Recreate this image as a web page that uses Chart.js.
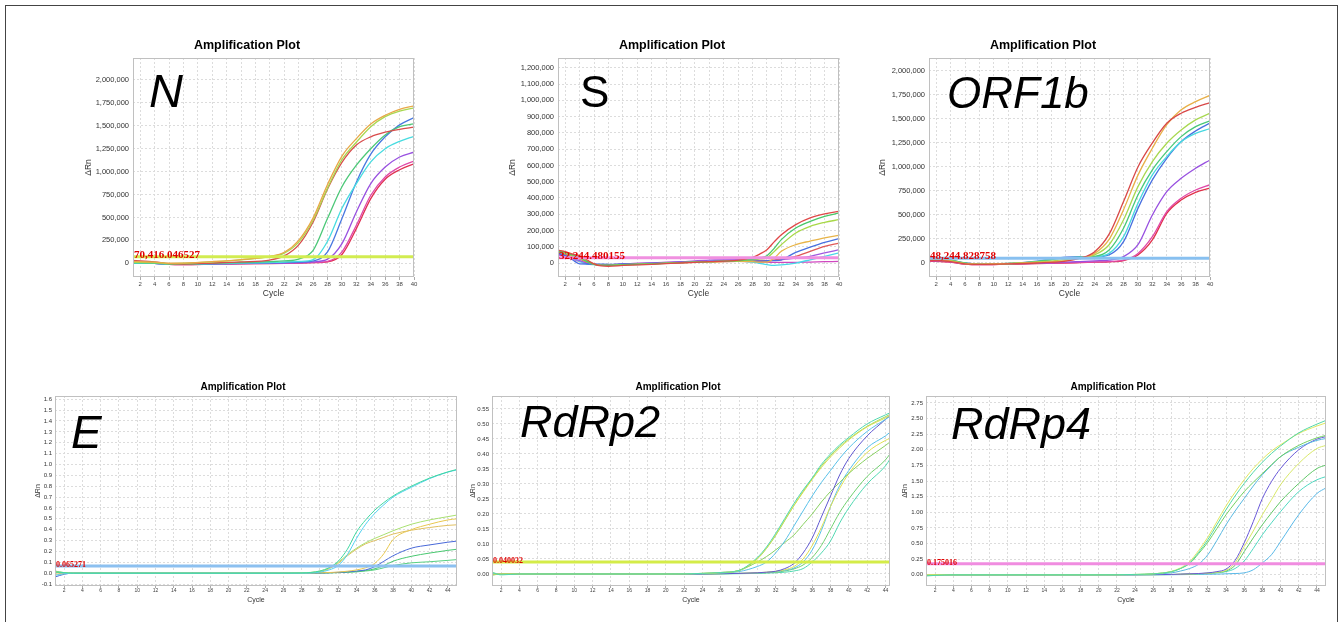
<!DOCTYPE html>
<html>
<head>
<meta charset="utf-8">
<script src="https://cdn.jsdelivr.net/npm/chart.js@4.4.0/dist/chart.umd.min.js"></script>
<style>
body { margin: 0; background: #fff; width: 1343px; height: 622px; overflow: hidden; position: relative; }
#frame { position: absolute; left: 5px; top: 5px; width: 1331px; height: 640px; border: 1px solid #444; }
</style>
</head>
<body>
<div id="frame"></div>
<script>
// ---- tick labels ----
var topXTicks = [2,4,6,8,10,12,14,16,18,20,22,24,26,28,30,32,34,36,38,40];
var botXTicks = [2,4,6,8,10,12,14,16,18,20,22,24,26,28,30,32,34,36,38,40,42,44];
var nYTicks = [0,250000,500000,750000,1000000,1250000,1500000,1750000,2000000];
var sYTicks = [0,100000,200000,300000,400000,500000,600000,700000,800000,900000,1000000,1100000,1200000];
var oYTicks = [0,250000,500000,750000,1000000,1250000,1500000,1750000,2000000];
var eYTicks = [-0.1,0,0.1,0.2,0.3,0.4,0.5,0.6,0.7,0.8,0.9,1.0,1.1,1.2,1.3,1.4,1.5,1.6];
var r2YTicks = [0,0.05,0.1,0.15,0.2,0.25,0.3,0.35,0.4,0.45,0.5,0.55];
var r4YTicks = [0,0.25,0.5,0.75,1,1.25,1.5,1.75,2,2.25,2.5,2.75];

// ---- N ----
var nCycles  = [1,4,6,8,12,16,20,22,24,26,28,30,32,34,36,38,40];
var nOrange  = [20000,12000,0,2000,18000,40000,75000,120000,250000,495000,860000,1170000,1360000,1520000,1615000,1680000,1718000];
var nYellow  = [10000,8000,-3000,0,15000,38000,72000,110000,230000,470000,820000,1130000,1320000,1490000,1600000,1660000,1695000];
var nRed     = [30000,15000,-5000,-8000,2000,15000,35000,80000,200000,450000,810000,1100000,1290000,1380000,1430000,1462000,1485000];
var nGreen   = [5000,3000,-8000,-10000,0,8000,18000,25000,45000,140000,490000,835000,1070000,1250000,1400000,1490000,1522000];
var nCyan    = [0,0,-10000,-12000,-5000,2000,8000,12000,20000,40000,240000,600000,870000,1106000,1250000,1330000,1386000];
var nBlue    = [0,-2000,-12000,-12000,-6000,0,5000,8000,12000,25000,124000,488000,885000,1190000,1380000,1510000,1590000];
var nPurple  = [0,-2000,-12000,-12000,-8000,-3000,0,3000,6000,15000,45000,215000,560000,870000,1050000,1160000,1212000];
var nMagenta = [10000,0,-12000,-14000,-10000,-5000,-2000,0,3000,8000,20000,124000,415000,742000,942000,1050000,1115000];
var nCrimson = [15000,2000,-12000,-14000,-10000,-6000,-3000,-1000,2000,6000,15000,95000,378000,706000,917000,1020000,1085000];
var nThreshold = 70416.046527;

// ---- S ----
var sCycles  = [1,2,3,4,5,6,7,8,10,14,18,22,26,28,29,30,31,32,34,36,38,40];
var sRed     = [80000,70000,55000,45000,20000,-5000,-18000,-20000,-15000,-8000,0,8000,18000,35000,55000,82000,130000,174000,236000,277000,302000,318000];
var sGreen   = [75000,65000,50000,35000,10000,-8000,-15000,-15000,-12000,-6000,2000,8000,15000,22000,30000,45000,90000,144000,215000,256000,287000,308000];
var sYellow  = [70000,60000,45000,30000,8000,-8000,-14000,-14000,-10000,-5000,2000,8000,14000,20000,25000,32000,70000,113000,185000,226000,250000,267000];
var sOrange  = [78000,68000,55000,40000,15000,-5000,-14000,-15000,-12000,-5000,2000,6000,10000,8000,5000,5000,30000,72000,113000,135000,155000,170000];
var sBlue    = [60000,45000,20000,-5000,-6000,-6000,-7000,-8000,-6000,-2000,4000,10000,14000,12000,12000,14000,15000,20000,66000,98000,127000,150000];
var sRed2    = [65000,55000,40000,25000,5000,-8000,-12000,-12000,-10000,-4000,3000,8000,12000,12000,12000,14000,18000,25000,41000,72000,103000,123000];
var sPurple  = [55000,45000,30000,15000,0,-8000,-10000,-10000,-6000,0,8000,18000,20000,18000,16000,15000,16000,20000,30000,41000,62000,82000];
var sCyan    = [60000,50000,30000,10000,-5000,-10000,-12000,-12000,-8000,-2000,5000,10000,12000,5000,-2000,-10000,-15000,-12000,0,20000,41000,62000];
var sMagenta = [50000,40000,25000,10000,-3000,-8000,-10000,-10000,-6000,0,5000,8000,10000,8000,6000,5000,4000,4000,4000,6000,8000,10000];
var sThreshold = 32244.480155;

// ---- ORF1b ----
var oCycles  = [1,4,6,8,12,16,20,22,24,26,28,30,32,34,36,38,40];
var oRed     = [30000,15000,-10000,-15000,-10000,0,20000,50000,118000,300000,640000,1000000,1250000,1455000,1560000,1620000,1670000];
var oOrange  = [35000,20000,-8000,-12000,-8000,5000,25000,50000,100000,245000,555000,915000,1195000,1440000,1595000,1680000,1745000];
var oYellow  = [40000,25000,-5000,-12000,-5000,10000,35000,55000,85000,190000,450000,795000,1056000,1247000,1385000,1490000,1560000];
var oGreen   = [45000,30000,0,-15000,-8000,15000,55000,60000,68000,135000,362000,708000,970000,1160000,1316000,1420000,1480000];
var oCyan    = [40000,25000,-5000,-15000,-8000,15000,55000,60000,65000,100000,274000,621000,917000,1108000,1264000,1350000,1400000];
var oBlue    = [45000,30000,0,-12000,-5000,20000,60000,65000,65000,85000,222000,569000,865000,1090000,1264000,1375000,1458000];
var oPurple  = [30000,15000,-10000,-15000,-10000,-3000,8000,15000,22000,30000,66000,190000,500000,743000,882000,986000,1073000];
var oMagenta = [25000,10000,-12000,-18000,-12000,-5000,2000,6000,10000,15000,30000,100000,274000,535000,674000,760000,815000];
var oCrimson = [20000,8000,-12000,-18000,-12000,-6000,0,4000,8000,12000,25000,83000,240000,517000,656000,736000,780000];
var oThreshold = 48244.828758;

// ---- E ----
var eCycles  = [1,2,3,4,8,12,16,20,24,28,30,31,32,33,34,35,36,37,38,40,42,44,45];
var eTeal    = [0.01,0.005,0,0,0,0,0,0,0,0.002,0.02,0.05,0.11,0.22,0.38,0.49,0.58,0.65,0.71,0.80,0.875,0.932,0.955];
var eCyan    = [-0.02,-0.005,0,0,0,0,0,0,0,0,0.01,0.03,0.07,0.17,0.32,0.45,0.55,0.63,0.70,0.79,0.87,0.93,0.95];
var eYellow  = [0.015,0.005,0,0,0,0,0,0,0,0.003,0.02,0.05,0.10,0.17,0.23,0.28,0.32,0.355,0.39,0.45,0.49,0.52,0.535];
var eOrange  = [-0.01,-0.005,0,0,0,0,0,0,0,0.002,0.015,0.04,0.09,0.16,0.22,0.27,0.30,0.33,0.36,0.395,0.42,0.44,0.445];
var eGold    = [0.005,0.002,0,0,0,0,0,0,0,0,0.004,0.006,0.01,0.018,0.03,0.05,0.09,0.18,0.31,0.40,0.45,0.49,0.50];
var eBlue    = [-0.035,-0.01,0,0,0,0,0,0,0,0,0.002,0.004,0.008,0.012,0.02,0.03,0.06,0.11,0.16,0.23,0.26,0.285,0.295];
var eGreen   = [0.01,0,0,0,0,0,0,0,0,0,0.002,0.004,0.006,0.01,0.015,0.025,0.04,0.07,0.11,0.155,0.185,0.21,0.22];
var eGreen2  = [0.02,0.005,0,0,0,0,0,0,0,0,0.001,0.003,0.005,0.008,0.012,0.02,0.03,0.05,0.07,0.095,0.105,0.118,0.125];
var eThreshold = 0.065271;

// ---- RdRp2 ----
var r2Cycles = [1,2,4,8,12,16,20,24,26,28,30,31,32,33,34,35,36,37,38,39,40,42,44,44.5];
var r2Teal    = [0.005,-0.003,0,0,0,0,0,0.002,0.005,0.012,0.055,0.09,0.135,0.185,0.235,0.28,0.32,0.365,0.40,0.43,0.455,0.50,0.53,0.537];
var r2Yellow  = [0,0,0,0,0,0,0,0.002,0.005,0.012,0.052,0.086,0.13,0.18,0.228,0.272,0.315,0.355,0.39,0.42,0.447,0.49,0.52,0.528];
var r2Lime    = [-0.004,0,0,0,0,0,0,0.002,0.004,0.011,0.05,0.085,0.128,0.178,0.228,0.275,0.318,0.36,0.395,0.425,0.45,0.492,0.524,0.532];
var r2Cyan    = [0.002,0,0,0,0,0,0,0.001,0.003,0.008,0.025,0.04,0.07,0.11,0.16,0.21,0.26,0.305,0.345,0.385,0.42,0.475,0.515,0.525];
var r2Purple  = [0,0,0,0,0,0,0,0,0.001,0.002,0.004,0.006,0.009,0.018,0.035,0.07,0.12,0.19,0.26,0.33,0.385,0.46,0.515,0.53];
var r2Green   = [0.003,0,0,0,0,0,0,0.002,0.005,0.012,0.04,0.058,0.08,0.105,0.13,0.165,0.2,0.24,0.275,0.305,0.335,0.385,0.428,0.44];
var r2Yellow2 = [0,0,0,0,0,0,0,0,0.001,0.002,0.004,0.006,0.009,0.014,0.025,0.05,0.095,0.155,0.225,0.285,0.335,0.405,0.445,0.452];
var r2Cyan2   = [0,0,0,0,0,0,0,0,0.001,0.002,0.003,0.005,0.008,0.012,0.02,0.04,0.08,0.145,0.225,0.295,0.345,0.42,0.46,0.472];
var r2Green2  = [0.004,0,0,0,0,0,0,0,0.001,0.002,0.003,0.004,0.006,0.01,0.017,0.03,0.055,0.095,0.15,0.205,0.25,0.325,0.38,0.40];
var r2Teal2   = [-0.003,0,0,0,0,0,0,0,0,0.001,0.002,0.003,0.004,0.006,0.01,0.018,0.04,0.07,0.11,0.17,0.22,0.30,0.36,0.383];
var r2Threshold = 0.040032;

// ---- RdRp4 ----
var r4Cycles  = [1,2,4,8,12,16,20,24,26,28,29,30,31,32,33,34,35,36,37,38,39,40,42,44,45];
var r4Teal    = [-0.02,-0.01,0,0,0,0,0,0.005,0.015,0.05,0.1,0.19,0.36,0.56,0.8,1.04,1.26,1.46,1.64,1.8,1.94,2.06,2.27,2.41,2.47];
var r4Yellow  = [0,0,0,0,0,0,0,0.005,0.015,0.055,0.11,0.21,0.39,0.6,0.85,1.1,1.32,1.52,1.7,1.85,1.98,2.08,2.26,2.38,2.43];
var r4Green   = [-0.01,0,0,0,0,0,0,0.005,0.015,0.05,0.1,0.18,0.34,0.52,0.74,0.96,1.15,1.33,1.48,1.62,1.76,1.89,2.07,2.19,2.23];
var r4Blue    = [0,0,0,0,0,0,0,0.003,0.01,0.03,0.06,0.1,0.17,0.32,0.55,0.8,1.02,1.22,1.42,1.6,1.75,1.89,2.04,2.15,2.18];
var r4Purple  = [0,0,0,0,0,0,0,0,0.002,0.005,0.01,0.015,0.02,0.03,0.05,0.09,0.23,0.51,0.85,1.22,1.49,1.7,2.0,2.17,2.21];
var r4Yellow2 = [0,0,0,0,0,0,0,0,0.002,0.004,0.008,0.012,0.018,0.025,0.04,0.07,0.19,0.45,0.7,0.96,1.2,1.44,1.78,2.02,2.07];
var r4Green2  = [0,0,0,0,0,0,0,0,0.002,0.004,0.008,0.012,0.017,0.024,0.035,0.06,0.15,0.37,0.59,0.8,0.99,1.17,1.46,1.70,1.755];
var r4Teal2   = [0,0,0,0,0,0,0,0,0.001,0.003,0.006,0.01,0.014,0.02,0.03,0.05,0.1,0.22,0.42,0.64,0.83,1.01,1.33,1.52,1.57];
var r4Blue2   = [0,0,0,0,0,0,0,0,0,0.001,0.002,0.004,0.006,0.008,0.01,0.015,0.02,0.03,0.08,0.19,0.32,0.53,0.96,1.3,1.39];
var r4Threshold = 0.175016;

var sans = '"Liberation Sans", Arial, sans-serif';
var serif = '"Liberation Serif", "Times New Roman", serif';

// titles, gene names, threshold text, plot frame
var decor = {
	id: 'decor',
	afterDraw: function(chart){
		var o = chart.options.plugins.decor;
		var ctx = chart.ctx;
		var a = chart.chartArea;
		ctx.save();
		ctx.strokeStyle = '#c0c0c0';
		ctx.lineWidth = 1;
		ctx.strokeRect(a.left + 0.5, a.top + 0.5, a.right - a.left - 1, a.bottom - a.top - 1);

		ctx.fillStyle = '#000';
		ctx.textAlign = 'center';
		ctx.textBaseline = 'middle';
		ctx.font = 'bold ' + o.titleSize + 'px ' + sans;
		ctx.fillText('Amplification Plot', o.titleX, o.titleY);

		ctx.textAlign = 'left';
		ctx.textBaseline = 'alphabetic';
		ctx.font = o.geneStyle + ' ' + o.geneSize + 'px ' + sans;
		ctx.fillText(o.gene, o.geneX, o.geneY);

		var ty = chart.scales.y.getPixelForValue(o.thr);
		ctx.fillStyle = '#e00000';
		ctx.font = 'bold ' + o.thrSize + 'px ' + serif;
		ctx.fillText(o.thrText, a.left + 1, ty + 1);
		ctx.restore();
	}
};

function pts(xs, ys){
	var out = [];
	for(var i = 0; i < xs.length; i++){
		out.push({x: xs[i], y: ys[i]});
	}
	return out;
}

function makePlot(p){
	var bx = p.box[0], by = p.box[1], w = p.box[2], h = p.box[3];
	var cv = document.createElement('canvas');
	cv.width = w;
	cv.height = h;
	cv.style.cssText = 'position:absolute;left:' + bx + 'px;top:' + by + 'px;width:' + w + 'px;height:' + h + 'px';
	document.body.appendChild(cv);

	var yW = p.area[0] - bx;
	var xH = by + h - p.area[3];

	var datasets = [{
		data: [{x: p.xMin, y: p.thr}, {x: p.xMax, y: p.thr}],
		borderColor: p.thrColor,
		borderWidth: 3,
		pointRadius: 0
	}];
	for(var i = 0; i < p.series.length; i++){
		datasets.push({
			data: pts(p.cycles, p.series[i][0]),
			borderColor: p.series[i][1],
			borderWidth: p.lw,
			pointRadius: 0,
			fill: false,
			cubicInterpolationMode: 'monotone'
		});
	}

	var lhY = p.axSize * 1.2;
	new Chart(cv, {
		type: 'line',
		data: {datasets: datasets},
		options: {
			responsive: false,
			animation: false,
			devicePixelRatio: 1,
			events: [],
			layout: {padding: {top: p.area[1] - by, right: bx + w - p.area[2], left: 0, bottom: 0}},
			plugins: {
				legend: {display: false},
				tooltip: {enabled: false},
				decor: {
					titleX: p.titleX - bx, titleY: p.titleY - by, titleSize: p.titleSize,
					gene: p.gene, geneStyle: p.geneStyle, geneSize: p.geneSize,
					geneX: p.geneX - bx, geneY: p.geneY - by,
					thr: p.thr, thrText: p.thrText, thrSize: p.thrSize
				}
			},
			scales: {
				x: {
					type: 'linear',
					min: p.xMin,
					max: p.xMax,
					afterBuildTicks: function(sc){ sc.ticks = p.xTicks.map(function(v){ return {value: v}; }); },
					afterFit: function(sc){ sc.height = xH; },
					ticks: {font: {family: sans, size: p.xTickSize}, color: '#444', padding: p.tickPad, maxRotation: 0, autoSkip: false},
					grid: {color: '#dcdcdc', borderDash: [2, 2], drawTicks: true, tickLength: p.tickLen, tickColor: '#aaa'},
					border: {display: false, dash: [2, 2]},
					title: {display: true, text: 'Cycle', color: '#333', font: {family: sans, size: p.axSize},
						padding: {top: 0, bottom: (by + h - p.cycleY) - lhY / 2}}
				},
				y: {
					type: 'linear',
					min: p.yMin,
					max: p.yMax,
					afterBuildTicks: function(sc){ sc.ticks = p.yTicks.map(function(v){ return {value: v}; }); },
					afterFit: function(sc){ sc.width = yW; },
					ticks: {font: {family: sans, size: p.yTickSize}, color: '#333', padding: p.yPad,
						callback: p.fmt},
					grid: {color: '#dcdcdc', borderDash: [2, 2], drawTicks: false},
					border: {display: false, dash: [2, 2]},
					title: {display: true, text: '\u0394Rn', color: '#333', font: {family: sans, size: p.axSize},
						padding: {top: (p.rnX - bx) - lhY / 2, bottom: 0}}
				}
			}
		},
		plugins: [decor]
	});
}

function fmtBig(v){ return v.toLocaleString('en-US'); }
function fmt1(v){ return v.toFixed(1); }
function fmt2(v){ return v.toFixed(2); }

makePlot({
	box: [70, 30, 360, 282], area: [133, 58, 414, 277],
	xMin: 1, xMax: 40, xTicks: topXTicks, yMin: -150000, yMax: 2240000, yTicks: nYTicks, fmt: fmtBig,
	cycles: nCycles, lw: 1.3,
	series: [[nOrange, '#e8a848'], [nYellow, '#a8d850'], [nRed, '#d84c4c'], [nGreen, '#4cc878'], [nCyan, '#48dce0'],
		[nBlue, '#4878e0'], [nPurple, '#9850e0'], [nMagenta, '#e048a8'], [nCrimson, '#e03050']],
	thr: nThreshold, thrColor: '#d2ec50', thrText: '70,416.046527', thrSize: 11,
	titleX: 247, titleY: 46, titleSize: 12.5,
	gene: 'N', geneStyle: 'italic', geneSize: 47, geneX: 149, geneY: 107,
	xTickSize: 6, yTickSize: 7.5, yPad: 4, axSize: 8.5, cycleY: 294, rnX: 89, tickLen: 3, tickPad: 1
});

makePlot({
	box: [495, 30, 355, 282], area: [558, 58, 839, 277],
	xMin: 1, xMax: 40, xTicks: topXTicks, yMin: -86000, yMax: 1261000, yTicks: sYTicks, fmt: fmtBig,
	cycles: sCycles, lw: 1.3,
	series: [[sRed, '#e04848'], [sGreen, '#48c868'], [sYellow, '#a8d848'], [sOrange, '#e8b448'], [sBlue, '#4870e0'],
		[sRed2, '#e05858'], [sPurple, '#a058e0'], [sCyan, '#48d8e8'], [sMagenta, '#d048c0']],
	thr: sThreshold, thrColor: '#f090e0', thrText: '32,244.480155', thrSize: 11,
	titleX: 672, titleY: 46, titleSize: 12.5,
	gene: 'S', geneStyle: 'normal', geneSize: 44, geneX: 580, geneY: 107,
	xTickSize: 6, yTickSize: 7.5, yPad: 4, axSize: 8.5, cycleY: 294, rnX: 513, tickLen: 3, tickPad: 1
});

makePlot({
	box: [865, 30, 355, 282], area: [929, 58, 1210, 277],
	xMin: 1, xMax: 40, xTicks: topXTicks, yMin: -146000, yMax: 2135000, yTicks: oYTicks, fmt: fmtBig,
	cycles: oCycles, lw: 1.3,
	series: [[oRed, '#d84848'], [oOrange, '#e8b048'], [oYellow, '#a8d850'], [oGreen, '#48c878'], [oCyan, '#48d8e0'],
		[oBlue, '#4870e0'], [oPurple, '#9850e0'], [oMagenta, '#e048a8'], [oCrimson, '#e03048']],
	thr: oThreshold, thrColor: '#88c0f0', thrText: '48,244.828758', thrSize: 11,
	titleX: 1043, titleY: 46, titleSize: 12.5,
	gene: 'ORF1b', geneStyle: 'italic', geneSize: 44, geneX: 947, geneY: 108,
	xTickSize: 6, yTickSize: 7.5, yPad: 4, axSize: 8.5, cycleY: 294, rnX: 883, tickLen: 3, tickPad: 1
});

makePlot({
	box: [30, 378, 435, 232], area: [55, 396, 457, 586],
	xMin: 1, xMax: 45, xTicks: botXTicks, yMin: -0.118, yMax: 1.63, yTicks: eYTicks, fmt: fmt1,
	cycles: eCycles, lw: 1,
	series: [[eTeal, '#40d8a0'], [eCyan, '#50d0f0'], [eYellow, '#a8e070'], [eOrange, '#e0c060'], [eGold, '#e8c850'],
		[eBlue, '#4868d8'], [eGreen, '#48c870'], [eGreen2, '#58d080']],
	thr: eThreshold, thrColor: '#8cc0f0', thrText: '0.065271', thrSize: 8,
	titleX: 243, titleY: 387, titleSize: 10,
	gene: 'E', geneStyle: 'italic', geneSize: 46, geneX: 71, geneY: 448,
	xTickSize: 5, yTickSize: 6, yPad: 3, axSize: 7, cycleY: 600, rnX: 38, tickLen: 2, tickPad: 0
});

makePlot({
	box: [465, 378, 435, 232], area: [492, 396, 890, 586],
	xMin: 1, xMax: 44.5, xTicks: botXTicks, yMin: -0.04, yMax: 0.593, yTicks: r2YTicks, fmt: fmt2,
	cycles: r2Cycles, lw: 1,
	series: [[r2Teal, '#50d8b0'], [r2Yellow, '#d8e050'], [r2Lime, '#a0d860'], [r2Cyan, '#58c0e8'], [r2Purple, '#6058d0'],
		[r2Green, '#88d060'], [r2Yellow2, '#e0e050'], [r2Cyan2, '#58c0e8'], [r2Green2, '#70d070'], [r2Teal2, '#50d8b0']],
	thr: r2Threshold, thrColor: '#d4ec48', thrText: '0.040032', thrSize: 8,
	titleX: 678, titleY: 387, titleSize: 10,
	gene: 'RdRp2', geneStyle: 'italic', geneSize: 45, geneX: 520, geneY: 437,
	xTickSize: 5, yTickSize: 6, yPad: 3, axSize: 7, cycleY: 600, rnX: 473, tickLen: 2, tickPad: 0
});

makePlot({
	box: [900, 378, 435, 232], area: [926, 396, 1326, 586],
	xMin: 1, xMax: 45, xTicks: botXTicks, yMin: -0.18, yMax: 2.86, yTicks: r4YTicks, fmt: fmt2,
	cycles: r4Cycles, lw: 1,
	series: [[r4Teal, '#50d8a8'], [r4Yellow, '#e0e860'], [r4Green, '#70d060'], [r4Blue, '#58b8e0'], [r4Purple, '#6858d8'],
		[r4Yellow2, '#d8e868'], [r4Green2, '#60c868'], [r4Teal2, '#50d8c0'], [r4Blue2, '#58b8e8']],
	thr: r4Threshold, thrColor: '#f08ce0', thrText: '0.175016', thrSize: 8,
	titleX: 1113, titleY: 387, titleSize: 10,
	gene: 'RdRp4', geneStyle: 'italic', geneSize: 45, geneX: 951, geneY: 439,
	xTickSize: 5, yTickSize: 6, yPad: 3, axSize: 7, cycleY: 600, rnX: 905, tickLen: 2, tickPad: 0
});
</script>
</body>
</html>
